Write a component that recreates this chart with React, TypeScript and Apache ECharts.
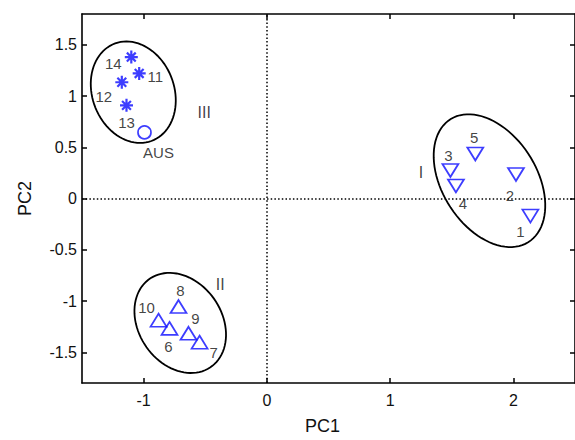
import React, { useEffect, useRef } from "react";
import * as echarts from "echarts";

// ---- data ----
const xMin = -1.5;
const xMax = 2.5;
const yMin = -1.8;
const yMax = 1.8;
const xTicks = [-1, 0, 1, 2];
const yTicks = [-1.5, -1, -0.5, 0, 0.5, 1, 1.5];

const groupINames = ["1", "2", "3", "4", "5"];
const groupIPC1 = [2.138, 2.021, 1.489, 1.534, 1.691];
const groupIPC2 = [-0.171, 0.235, 0.274, 0.123, 0.435];

const groupIINames = ["6", "7", "8", "9", "10"];
const groupIIPC1 = [-0.79, -0.546, -0.717, -0.636, -0.879];
const groupIIPC2 = [-1.267, -1.402, -1.054, -1.315, -1.187];

const groupIIINames = ["11", "12", "13", "14"];
const groupIIIPC1 = [-1.036, -1.177, -1.139, -1.1];
const groupIIIPC2 = [1.22, 1.134, 0.909, 1.38];

const ausNames = ["AUS"];
const ausPC1 = [-0.993];
const ausPC2 = [0.645];

// cluster tags
const clusterNames = ["I", "II", "III"];
const clusterPC1 = [1.25, -0.378, -0.508];
const clusterPC2 = [0.258, -0.838, 0.838];

// cluster ellipses: centre and two conjugate semi-axis vectors, in data units
const ellipseCenterPC1 = [1.806, -0.703, -1.084];
const ellipseCenterPC2 = [0.174, -1.214, 1.037];
const ellipseU = [
  [0.314, -0.601],
  [0.242, -0.435],
  [0.147, -0.476],
];
const ellipseV = [
  [-0.326, -0.242],
  [-0.282, -0.222],
  [-0.312, -0.136],
];

// ---- styling ----
const labelOffsets: Record<string, number[]> = {
  "1": [-10, 15],
  "2": [-6, 21],
  "3": [-2, -15],
  "4": [7, 18],
  "5": [-1, -16],
  "6": [-1, 18],
  "7": [14, 10],
  "8": [2, -16],
  "9": [7, -15],
  "10": [-12, -13],
  "11": [16, 3],
  "12": [-18, 14],
  "13": [0, 17],
  "14": [-18, 6],
  AUS: [14, 20],
};

const BLUE = "#0c0cff";
const FONT = "'Liberation Sans', Arial, Helvetica, sans-serif";
const ASTERISK =
  "path://M5 0L5 10M0 5L10 5M1.6 1.6L8.4 8.4M1.6 8.4L8.4 1.6";

function pts(names: string[], xs: number[], ys: number[]) {
  return names.map((n, i) => ({
    name: n,
    value: [xs[i], ys[i]],
    label: { offset: labelOffsets[n] || [0, 0] },
  }));
}

const pointLabel = {
  show: true,
  position: "inside",
  formatter: "{b}",
  color: "#111",
  textBorderWidth: 0,
  textBorderColor: "transparent",
  fontSize: 15,
  fontFamily: FONT,
};

export default function App() {
  const ref = useRef<HTMLDivElement>(null);
  useEffect(() => {
    if (!ref.current) return;
    const chart = echarts.init(ref.current, null, { renderer: "svg" });

    const axisCommon = {
      type: "value",
      axisLine: { show: true, onZero: false, lineStyle: { color: "#000", width: 1.6 } },
      splitLine: { show: false },
    };

    const ellipseData = ellipseCenterPC1.map((cx, i) => [
      cx,
      ellipseCenterPC2[i],
      ellipseU[i][0],
      ellipseU[i][1],
      ellipseV[i][0],
      ellipseV[i][1],
    ]);

    chart.setOption({
      animation: false,
      backgroundColor: "#fff",
      textStyle: { fontFamily: FONT },
      grid: { left: 82, top: 14, width: 494, height: 373 },
      xAxis: [
        {
          ...axisCommon,
          position: "bottom",
          min: xMin,
          max: xMax,
          name: "PC1",
          nameLocation: "middle",
          nameGap: 34,
          nameTextStyle: {
            fontSize: 18,
            color: "#111",
            fontFamily: FONT,
            padding: [0, 12, 0, 0],
          },
          axisTick: {
            show: true,
            inside: true,
            length: 5,
            customValues: xTicks,
            lineStyle: { color: "#000", width: 1.5 },
          },
          axisLabel: {
            show: true,
            customValues: xTicks,
            margin: 9,
            color: "#111",
            fontSize: 16,
            fontFamily: FONT,
          },
        },
        {
          ...axisCommon,
          position: "top",
          min: xMin,
          max: xMax,
          axisTick: {
            show: true,
            inside: true,
            length: 5,
            customValues: xTicks,
            lineStyle: { color: "#000", width: 1.5 },
          },
          axisLabel: { show: false },
        },
      ],
      yAxis: [
        {
          ...axisCommon,
          position: "left",
          min: yMin,
          max: yMax,
          name: "PC2",
          nameLocation: "middle",
          nameGap: 48,
          nameTextStyle: { fontSize: 18, color: "#111", fontFamily: FONT },
          axisTick: {
            show: true,
            inside: true,
            length: 5,
            customValues: yTicks,
            lineStyle: { color: "#000", width: 1.5 },
          },
          axisLabel: {
            show: true,
            customValues: yTicks,
            margin: 5,
            color: "#111",
            fontSize: 16,
            fontFamily: FONT,
          },
        },
        {
          ...axisCommon,
          position: "right",
          min: yMin,
          max: yMax,
          axisTick: {
            show: true,
            inside: true,
            length: 5,
            customValues: yTicks,
            lineStyle: { color: "#000", width: 1.5 },
          },
          axisLabel: { show: false },
        },
      ],
      series: [
        {
          type: "line",
          name: "zero lines",
          data: [],
          silent: true,
          markLine: {
            silent: true,
            symbol: ["none", "none"],
            label: { show: false },
            lineStyle: { color: "#000", width: 1.5, type: [1.5, 2.2] },
            data: [{ xAxis: 0 }, { yAxis: 0 }],
          },
        },
        {
          type: "custom",
          name: "ellipses",
          coordinateSystem: "cartesian2d",
          xAxisIndex: 0,
          yAxisIndex: 0,
          dimensions: ["cx", "cy", "ux", "uy", "vx", "vy"],
          encode: { x: 0, y: 1 },
          data: ellipseData,
          silent: true,
          renderItem: (params: any, api: any) => {
            const cx = api.value(0);
            const cy = api.value(1);
            const ux = api.value(2);
            const uy = api.value(3);
            const vx = api.value(4);
            const vy = api.value(5);
            const points: number[][] = [];
            const n = 90;
            for (let k = 0; k < n; k++) {
              const t = (k / n) * Math.PI * 2;
              const c = Math.cos(t);
              const s = Math.sin(t);
              points.push(api.coord([cx + ux * c + vx * s, cy + uy * c + vy * s]));
            }
            return {
              type: "polygon",
              shape: { points },
              style: { fill: "none", stroke: "#000", lineWidth: 1.8 },
            };
          },
        },
        {
          type: "scatter",
          name: "I",
          symbol: "triangle",
          symbolRotate: 180,
          symbolSize: [16, 13],
          itemStyle: { color: "rgba(0,0,0,0)", borderColor: BLUE, borderWidth: 1.7 },
          label: pointLabel,
          data: pts(groupINames, groupIPC1, groupIPC2),
        },
        {
          type: "scatter",
          name: "II",
          symbol: "triangle",
          symbolSize: [16, 13],
          itemStyle: { color: "rgba(0,0,0,0)", borderColor: BLUE, borderWidth: 1.7 },
          label: pointLabel,
          data: pts(groupIINames, groupIIPC1, groupIIPC2),
        },
        {
          type: "scatter",
          name: "III",
          symbol: ASTERISK,
          symbolSize: 13,
          itemStyle: { color: "rgba(0,0,0,0)", borderColor: BLUE, borderWidth: 2.2 },
          label: pointLabel,
          data: pts(groupIIINames, groupIIIPC1, groupIIIPC2),
        },
        {
          type: "scatter",
          name: "AUS",
          symbol: "circle",
          symbolSize: 13,
          itemStyle: { color: "rgba(0,0,0,0)", borderColor: BLUE, borderWidth: 1.7 },
          label: pointLabel,
          data: pts(ausNames, ausPC1, ausPC2),
        },
        {
          type: "scatter",
          name: "clusters",
          symbol: "circle",
          symbolSize: 1,
          itemStyle: { color: "rgba(0,0,0,0)" },
          label: { ...pointLabel, fontSize: 16 },
          data: clusterNames.map((n, i) => ({
            name: n,
            value: [clusterPC1[i], clusterPC2[i]],
          })),
        },
      ],
    });
    return () => chart.dispose();
  }, []);
  return (
    <div
      ref={ref}
      style={{ position: "fixed", left: 0, top: 0, width: 575, height: 440, background: "#fff" }}
    />
  );
}
